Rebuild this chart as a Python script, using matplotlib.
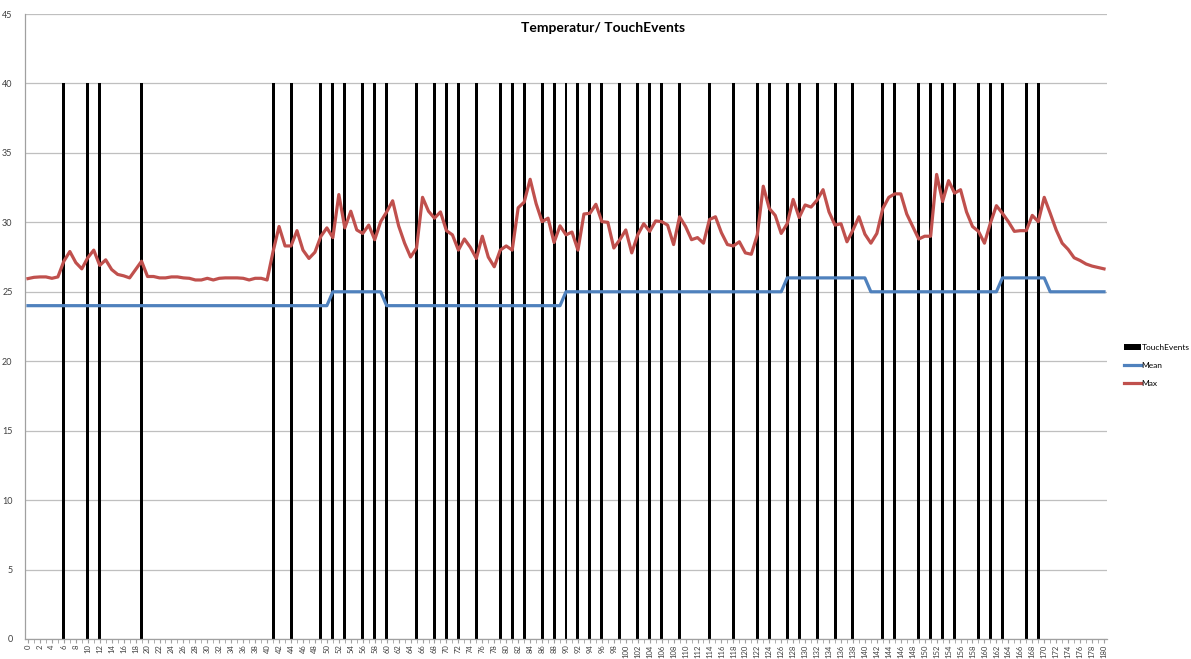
import numpy as np
import matplotlib.pyplot as plt

plt.rcParams['font.family'] = ['Lato', 'DejaVu Sans']

#####################################################

x = np.arange(0, 181)

touch_events = [6, 10, 12, 19, 41, 44, 49, 51, 53, 56, 58, 60, 65, 68, 70, 72, 75,
                79, 81, 83, 86, 88, 90, 92, 94, 96, 99, 102, 104, 106, 109, 114,
                118, 122, 124, 127, 129, 132, 135, 138, 143, 145, 149, 151, 153,
                155, 159, 161, 163, 167, 169]
touch_height = 40

# mean: (start, end, value) runs
mean_runs = [(0, 50, 24), (51, 59, 25), (60, 89, 24), (90, 126, 25),
             (127, 140, 26), (141, 162, 25), (163, 170, 26), (171, 180, 25)]

max_vals = [
    25.95, 26.04, 26.07, 26.07, 25.97, 26.07, 27.2, 27.9, 27.1, 26.65,
    27.45, 28.0, 26.9, 27.3, 26.6, 26.25, 26.15, 26.0, 26.6, 27.2,
    26.1, 26.1, 26.0, 26.0, 26.07, 26.07, 26.0, 25.97, 25.85, 25.85,
    25.97, 25.85, 25.97, 26.0, 26.0, 26.0, 25.97, 25.85, 25.97, 25.97,
    25.85, 27.9, 29.7, 28.3, 28.3, 29.4, 28.0, 27.4, 27.85, 29.0,
    29.6, 28.9, 32.0, 29.6, 30.8, 29.45, 29.2, 29.8, 28.75, 30.05,
    30.75, 31.55, 29.75, 28.5, 27.5, 28.15, 31.8, 30.8, 30.3, 30.75,
    29.4, 29.1, 28.0, 28.8, 28.2, 27.4, 29.0, 27.5, 26.8, 28.0,
    28.3, 28.0, 31.05, 31.45, 33.1, 31.35, 30.05, 30.3, 28.55, 29.75,
    29.1, 29.3, 28.0, 30.6, 30.65, 31.3, 30.05, 30.0, 28.15, 28.75,
    29.45, 27.8, 29.1, 29.9, 29.35, 30.1, 30.05, 29.8, 28.4, 30.4,
    29.7, 28.75, 28.9, 28.5, 30.2, 30.4, 29.25, 28.4, 28.3, 28.6,
    27.8, 27.7, 29.1, 32.6, 31.0, 30.5, 29.2, 29.9, 31.65, 30.35,
    31.25, 31.1, 31.6, 32.35, 30.75, 29.8, 29.9, 28.6, 29.45, 30.4,
    29.15, 28.5, 29.2, 31.0, 31.8, 32.05, 32.05, 30.6, 29.7, 28.8,
    29.0, 29.0, 33.45, 31.5, 33.0, 32.1, 32.35, 30.75, 29.7, 29.35,
    28.5, 29.95, 31.2, 30.65, 30.05, 29.35, 29.4, 29.4, 30.5, 30.05,
    31.8, 30.65, 29.45, 28.5, 28.05, 27.45, 27.25, 27.0, 26.85, 26.75,
    26.65]

#####################################################

mean_vals = np.zeros(len(x))
for s, e, v in mean_runs:
    mean_vals[s:e + 1] = v

fig = plt.figure(figsize=(11.91, 6.59), dpi=100)
ax = fig.add_axes([25 / 1191, 20 / 659, 1082 / 1191, 625 / 659])

bars = ax.bar(touch_events, [touch_height] * len(touch_events), width=0.5,
              color='black', label='TouchEvents', zorder=2)
l_mean, = ax.plot(x, mean_vals, color='#4F81BD', lw=2.3, label='Mean', zorder=3)
l_max, = ax.plot(x, max_vals, color='#C0504D', lw=2.3, label='Max', zorder=4)

ax.set_xlim(-0.5, 180.5)
ax.set_ylim(0, 45)
ax.set_yticks(np.arange(0, 46, 5))
ax.yaxis.grid(True, color='#bfbfbf', lw=0.9)
ax.set_axisbelow(True)

ax.set_xticks(np.arange(0, 181, 2))
ax.set_xticklabels([str(v) for v in range(0, 181, 2)], rotation=90,
                   fontsize=5.5, color='#404040')
ax.set_xticks(np.arange(0, 181, 1), minor=True)
ax.tick_params(axis='x', which='both', length=3, color='#a0a0a0', pad=1)
ax.tick_params(axis='y', length=0, labelsize=6.5, labelcolor='#404040', pad=9)

for side in ['top', 'right']:
    ax.spines[side].set_visible(False)
for side in ['left', 'bottom']:
    ax.spines[side].set_color('#a0a0a0')
    ax.spines[side].set_linewidth(0.9)

fig.text(603 / 1191, 1 - 28 / 659, 'Temperatur/ TouchEvents', fontsize=10,
         fontweight='bold', ha='center', va='center')

fig.legend([bars, l_mean, l_max], ['TouchEvents', 'Mean', 'Max'],
           loc='upper left', bbox_to_anchor=(1124 / 1191, 1 - 344 / 659),
           frameon=False, fontsize=6, handlelength=2.0, handletextpad=0.1,
           labelspacing=1.3, borderpad=0, borderaxespad=0)

fig.savefig('out.png', dpi=100)
